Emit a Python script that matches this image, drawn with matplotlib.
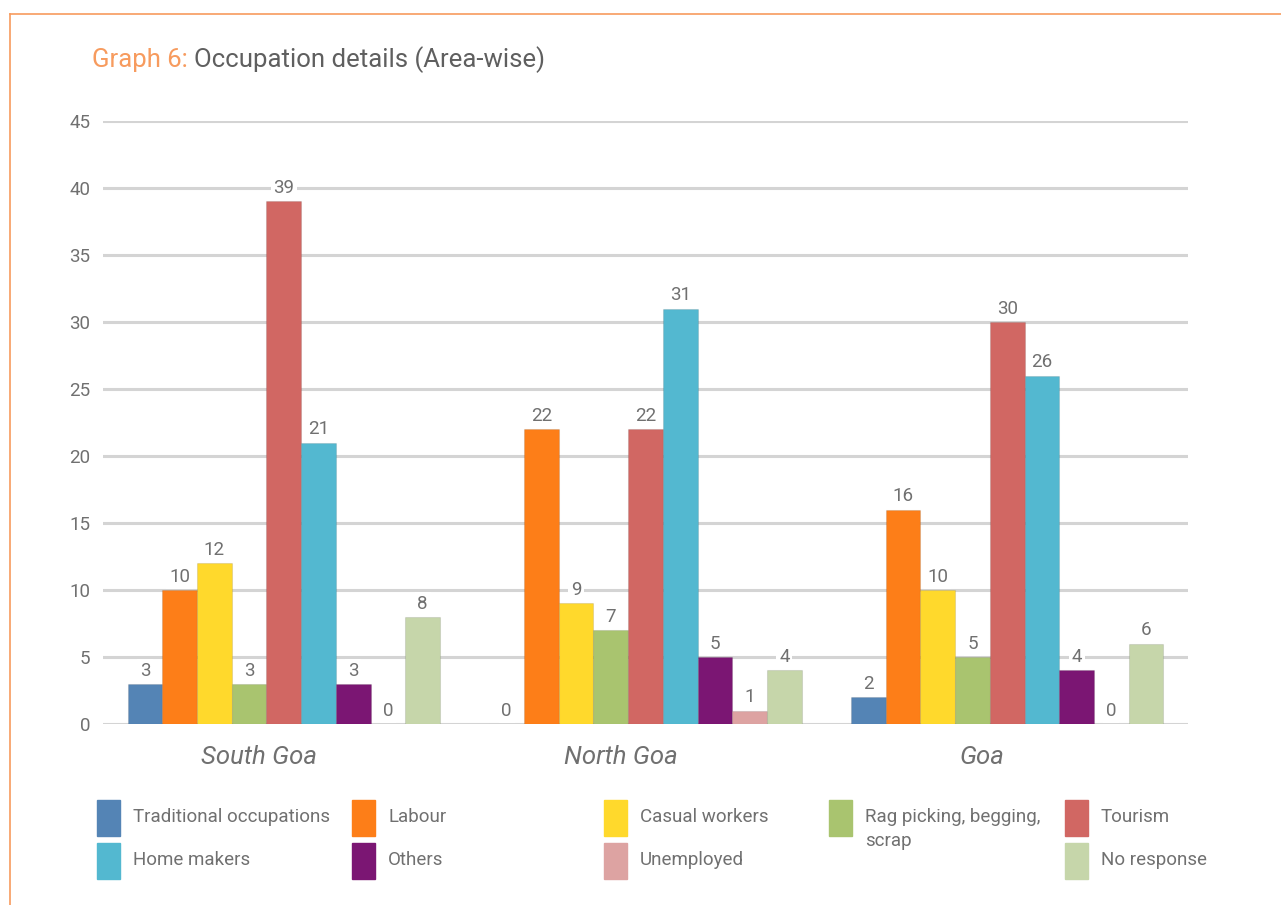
import matplotlib.pyplot as plt
import matplotlib.patches as mpatches
from matplotlib.lines import Line2D
import numpy as np

plt.rcParams['font.family'] = ['Roboto', 'DejaVu Sans']

# ---------------------------------------------------------------------------
# data
areas = ['South Goa', 'North Goa', 'Goa']
occupations = ['Traditional occupations', 'Labour', 'Casual workers',
               'Rag picking, begging,\nscrap', 'Tourism', 'Home makers',
               'Others', 'Unemployed', 'No response']
colors = ['#5484B5', '#FD7E18', '#FFD92C', '#A9C46F', '#D16763',
          '#53B8D0', '#7B1673', '#DDA3A2', '#C6D6AA']

south_goa = [3, 10, 12, 3, 39, 21, 3, 0, 8]
north_goa = [0, 22, 9, 7, 22, 31, 5, 1, 4]
goa = [2, 16, 10, 5, 30, 26, 4, 0, 6]
yticks = [0, 5, 10, 15, 20, 25, 30, 35, 40, 45]

# legend grid: (column, row) for each occupation
legend_cols = [97, 352, 604, 829, 1065]
legend_slots = [(0, 0), (1, 0), (2, 0), (3, 0), (4, 0),
                (0, 1), (1, 1), (2, 1), (4, 1)]

grey = '#707070'
orange = '#F79B5E'
W, H = 1281, 905

fig = plt.figure(figsize=(W / 100, H / 100), dpi=100)
ax = fig.add_axes([103 / W, 1 - 724 / H, (1188 - 103) / W, (724 - 121) / H])

values = np.array([south_goa, north_goa, goa])
x = np.arange(len(areas))
bw = 0.096
n = len(occupations)

for yt in yticks:
    ax.axhline(yt, color='#d4d4d4', lw=2.2, zorder=1)

for j in range(n):
    pos = x + (j - (n - 1) / 2) * bw
    ax.bar(pos, values[:, j], width=bw, color=colors[j], edgecolor='#00000018',
           linewidth=0.8, zorder=2)
    for px, v in zip(pos, values[:, j]):
        ax.annotate(str(v), (px, v), xytext=(0, 3), textcoords='offset points',
                    ha='center', va='bottom', fontsize=13.5, color=grey,
                    zorder=3,
                    bbox=dict(boxstyle='square,pad=0.15', fc='white', ec='none'))

ax.set_xlim(-0.5, 2.5)
ax.set_ylim(0, 45)
ax.set_yticks(yticks)
ax.set_yticklabels([str(t) for t in yticks], fontsize=13.5, color=grey)
ax.tick_params(axis='y', length=0, pad=9)
ax.set_xticks([])
for s in ax.spines.values():
    s.set_visible(False)

for i, name in enumerate(areas):
    ax.text(i - 0.069, -0.055, name, transform=ax.get_xaxis_transform(),
            ha='center', va='center', fontsize=18.5, style='italic',
            color=grey)

# legend drawn by hand to keep the irregular column spacing
for j, (c, r) in enumerate(legend_slots):
    x0 = legend_cols[c]
    ytop = 800 + r * 43
    fig.patches.append(mpatches.Rectangle((x0 / W, 1 - (ytop + 36) / H), 23 / W, 36 / H,
                                          transform=fig.transFigure, color=colors[j]))
    fig.text((x0 + 36) / W, 1 - (ytop + 8) / H, occupations[j], ha='left', va='top',
             fontsize=13.5, color=grey, linespacing=1.45)

# title in two colours
t1 = fig.text(92 / W, 1 - 60 / H, 'Graph 6:', fontsize=18.5, color=orange,
              va='center', ha='left')
fig.canvas.draw()
bb = t1.get_window_extent()
fig.text((bb.x1 + 6) / W, 1 - 60 / H, 'Occupation details (Area-wise)', fontsize=18.5,
         color='#5f5f5f', va='center', ha='left')

# orange frame at top and left
fig.lines.append(Line2D([10 / W, 1], [1 - 14 / H, 1 - 14 / H], transform=fig.transFigure,
                        color=orange, lw=1.2))
fig.lines.append(Line2D([10 / W, 10 / W], [0, 1 - 14 / H], transform=fig.transFigure,
                        color=orange, lw=1.2))

fig.savefig('out.png', dpi=100)
